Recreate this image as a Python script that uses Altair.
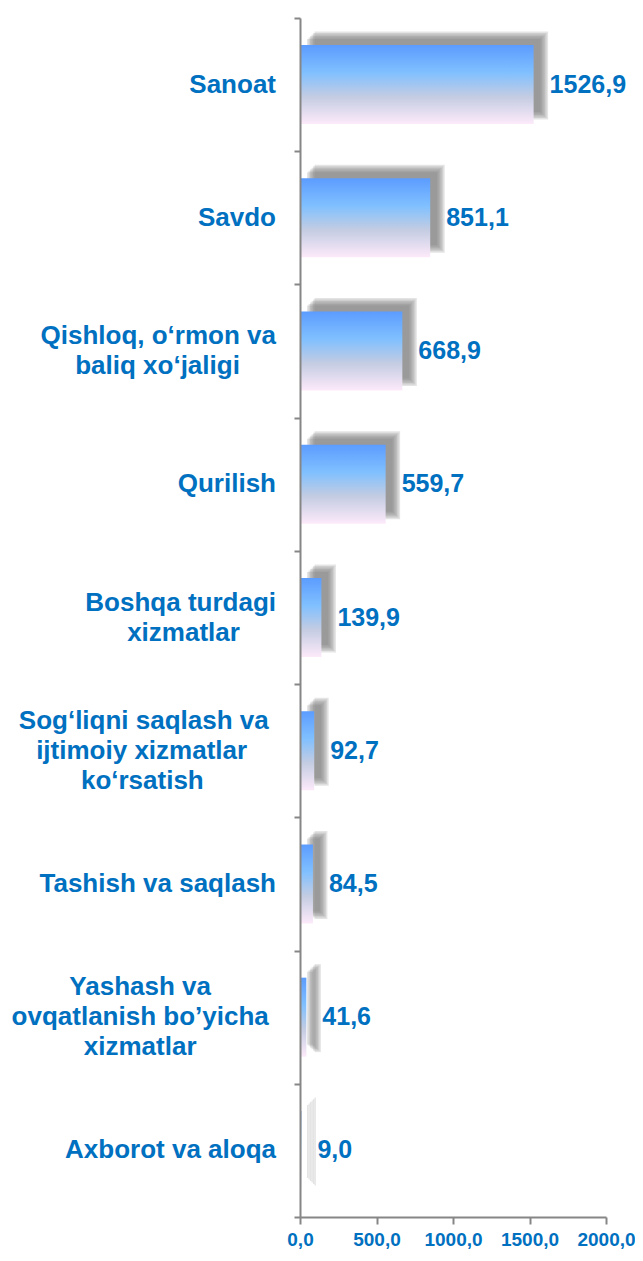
import altair as alt
import pandas as pd

NB = "\u00a0"
WJ = "\u2060"

# category lines ("|" separates wrapped lines)
categories = [
    "Sanoat",
    "Savdo",
    "Qishloq, o‘rmon va|baliq xo‘jaligi",
    "Qurilish",
    "Boshqa turdagi|xizmatlar",
    "Sog‘liqni saqlash va|ijtimoiy xizmatlar|ko‘rsatish",
    "Tashish va saqlash",
    "Yashash va|ovqatlanish bo’yicha|xizmatlar",
    "Axborot va aloqa",
]
values = [1526.9, 851.1, 668.9, 559.7, 139.9, 92.7, 84.5, 41.6, 9.0]
x_ticks = [0, 500, 1000, 1500, 2000]

# trailing non-breaking spaces per wrapped line, so that the lines of a
# right-aligned label block appear centred (style only)
line_indent = {
    "Qishloq, o‘rmon va|baliq xo‘jaligi": [0, 5],
    "Boshqa turdagi|xizmatlar": [0, 5],
    "Sog‘liqni saqlash va|ijtimoiy xizmatlar|ko‘rsatish": [1, 4, 10],
    "Yashash va|ovqatlanish bo’yicha|xizmatlar": [9, 1, 11],
}


def label_lines(cat):
    lines = cat.split("|")
    pads = line_indent.get(cat, [0] * len(lines))
    return [line + (NB * p + WJ if p else "") for line, p in zip(lines, pads)]


df = pd.DataFrame({
    "cat": categories,
    "val": values,
    "lbl": [f"{v:.1f}".replace(".", ",") for v in values],
    "lines": [label_lines(c) for c in categories],
    "nlines": [len(c.split("|")) for c in categories],
})

BLUE = "#0070c0"
GRAY = "#868686"
FONT = "Liberation Sans"
BAR_H = 79
LINE_H = 30

y_enc = alt.Y(
    "cat:N",
    sort=categories,
    scale=alt.Scale(paddingInner=0, paddingOuter=0),
    axis=alt.Axis(
        title=None,
        labels=False,
        domainColor=GRAY,
        domainWidth=2,
        tickColor=GRAY,
        tickWidth=2,
        tickSize=6,
        tickBand="extent",
        zindex=1,
    ),
)

x_enc = alt.X(
    "val:Q",
    scale=alt.Scale(domain=[0, 2000], nice=False),
    axis=alt.Axis(
        title=None,
        values=x_ticks,
        grid=False,
        domainColor=GRAY,
        domainWidth=2,
        tickColor=GRAY,
        tickWidth=2,
        tickSize=7,
        labelFont=FONT,
        labelFontSize=19,
        labelFontWeight="bold",
        labelColor=BLUE,
        labelPadding=6,
        labelFlush=False,
        labelOverlap=False,
        labelExpr="replace(format(datum.value, '.1f'), '.', ',')",
    ),
)

base = alt.Chart(df)

shadows = []
for e in [-3, -1.5, 0, 1.5, 3, 4.5]:
    shadows.append(
        base.mark_bar(
            size=BAR_H + 2 * e,
            xOffset=10 + e,
            x2Offset=10 - e,
            yOffset=-9,
            color="#777777",
            opacity=0.2,
        ).encode(x=x_enc, y=y_enc)
    )

grad = alt.Gradient(
    gradient="linear",
    x1=0, x2=0, y1=0, y2=1,
    stops=[
        alt.GradientStop(offset=0, color="#5c9cff"),
        alt.GradientStop(offset=0.35, color="#80c0ff"),
        alt.GradientStop(offset=0.65, color="#c3cce2"),
        alt.GradientStop(offset=1, color="#fdeafa"),
    ],
)

bars = base.mark_bar(size=BAR_H, color=grad).encode(x=x_enc, y=y_enc)

text = base.mark_text(
    align="left",
    baseline="middle",
    dx=16,
    font=FONT,
    fontSize=25,
    fontWeight="bold",
    color=BLUE,
).encode(x=x_enc, y=y_enc, text="lbl:N")

# category labels, right-aligned left of the y axis, block centred on the band
cat_layers = []
for n in [1, 2, 3]:
    cat_layers.append(
        base.transform_filter(f"datum.nlines == {n}")
        .mark_text(
            align="right",
            baseline="middle",
            dx=-24,
            dy=-(n - 1) * LINE_H / 2,
            lineHeight=LINE_H,
            font=FONT,
            fontSize=26,
            fontWeight="bold",
            color=BLUE,
        )
        .encode(
            x=alt.X(datum=0, type="quantitative"),
            y=y_enc,
            text="lines:N",
        )
    )

chart = alt.layer(*shadows, bars, text, *cat_layers).properties(
    width=306,
    height=1199,
    autosize=alt.AutoSizeParams(type="none"),
    padding={"left": 292, "top": 10, "right": 29, "bottom": 36},
).configure_view(stroke=None)

chart.save("out.html", embed_options={"renderer": "svg", "actions": False})
